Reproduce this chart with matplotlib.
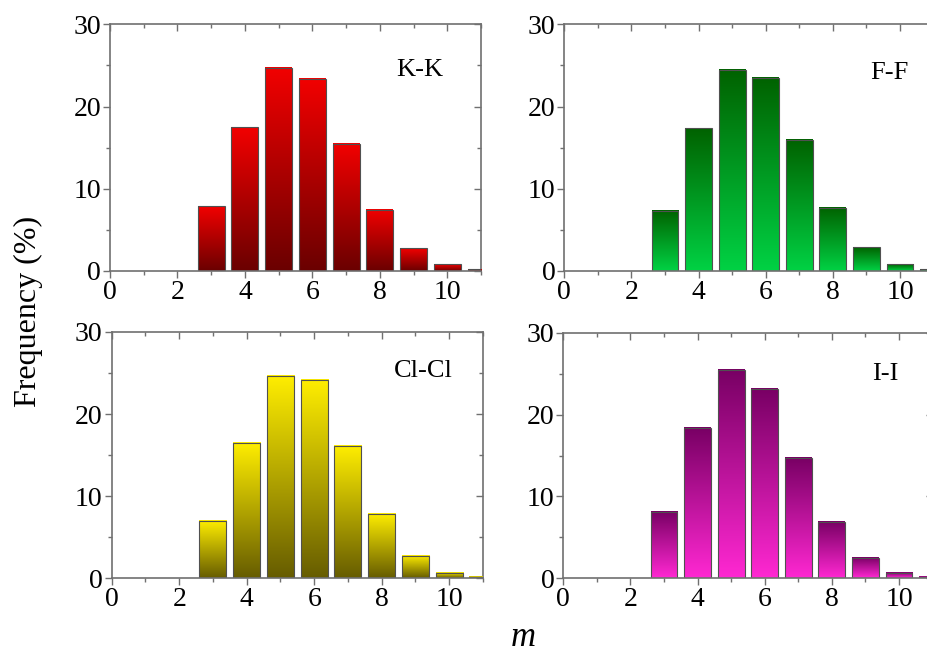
import numpy as np
import matplotlib
matplotlib.use("Agg")
import matplotlib.pyplot as plt
from matplotlib.colors import LinearSegmentedColormap

plt.rcParams['font.family'] = ['Liberation Serif', 'DejaVu Serif']

m_values = [3, 4, 5, 6, 7, 8, 9, 10, 11]
kk = [7.85, 17.5, 24.7, 23.4, 15.45, 7.45, 2.75, 0.8, 0.2]
ff = [7.3, 17.35, 24.45, 23.5, 15.95, 7.7, 2.9, 0.8, 0.2]
clcl = [7.0, 16.5, 24.65, 24.15, 16.1, 7.85, 2.7, 0.7, 0.15]
ii = [8.1, 18.4, 25.5, 23.15, 14.75, 6.9, 2.45, 0.65, 0.15]

labels = ['K-K', 'F-F', 'Cl-Cl', 'I-I']
series = [kk, ff, clcl, ii]
grad_colors = [('#f20000', '#6a0000'),   # top, bottom
               ('#006200', '#00d244'),
               ('#ffee00', '#665c00'),
               ('#780064', '#ff28d2')]
label_pos = [(8.5, 24.4), (9.1, 24.1), (8.35, 25.3), (9.2, 25.0)]

W, H = 927, 653
# axes rectangles in pixels: left, right, top, bottom
rects = [(110, 481, 24.3, 271),
         (564.3, 933.6, 24.3, 271),
         (111.7, 483, 332, 578.3),
         (563.3, 932.5, 332.7, 578.3)]

fig = plt.figure(figsize=(W/100, H/100), dpi=100)
spine_c = '#707070'
bar_w = 0.8

for k in range(4):
    l, r, t, b = rects[k]
    ax = fig.add_axes([l/W, 1 - b/H, (r-l)/W, (b-t)/H])
    top, bot = grad_colors[k]
    cmap = LinearSegmentedColormap.from_list('g%d' % k, [bot, top])
    grad = np.linspace(0, 1, 256).reshape(-1, 1)
    for x, h in zip(m_values, series[k]):
        ax.imshow(grad, extent=[x - bar_w/2, x + bar_w/2, 0, h], origin='lower',
                  aspect='auto', cmap=cmap, interpolation='bilinear', zorder=2)
    ax.bar(m_values, series[k], width=bar_w, facecolor='none',
           edgecolor='#505050', linewidth=0.8, zorder=3)
    ax.set_xlim(0, 11)
    ax.set_ylim(0, 30)
    ax.set_xticks([0, 2, 4, 6, 8, 10])
    ax.set_xticks(range(0, 12), minor=True)
    ax.set_yticks([0, 10, 20, 30])
    ax.set_yticks([5, 15, 25], minor=True)
    for s in ['top', 'right']:
        ax.spines[s].set_visible(False)
    for s in ['left', 'bottom']:
        ax.spines[s].set_color(spine_c)
        ax.spines[s].set_linewidth(1.2)
        ax.spines[s].set_zorder(4)
    ax.tick_params(which='both', direction='out', color=spine_c, width=1.0,
                   labelsize=20, pad=1.5)
    ax.tick_params(which='major', length=5)
    ax.tick_params(which='minor', length=3)
    secx = ax.secondary_xaxis('top')
    secx.set_xticks([0, 2, 4, 6, 8, 10])
    secx.set_xticks(range(0, 12), minor=True)
    secx.tick_params(which='both', direction='in', color=spine_c, labeltop=False, width=1.0)
    secx.tick_params(which='major', length=5)
    secx.tick_params(which='minor', length=3)
    secx.spines['top'].set_color(spine_c)
    secx.spines['top'].set_linewidth(1.2)
    secy = ax.secondary_yaxis('right')
    secy.set_yticks([0, 10, 20, 30])
    secy.set_yticks([5, 15, 25], minor=True)
    secy.tick_params(which='both', direction='in', color=spine_c, labelright=False, width=1.0)
    secy.tick_params(which='major', length=5)
    secy.tick_params(which='minor', length=3)
    secy.spines['right'].set_color(spine_c)
    secy.spines['right'].set_linewidth(1.2)
    lx, ly = label_pos[k]
    ax.text(lx, ly, labels[k], fontsize=19, ha='left', va='center')

fig.text(28/W, 1 - 311/H, 'Frequency (%)', rotation=90, fontsize=23,
         ha='center', va='center')
fig.text(523/W, 1 - 638/H, 'm', fontsize=25, style='italic',
         ha='center', va='center')

fig.savefig('out.png', dpi=100)
